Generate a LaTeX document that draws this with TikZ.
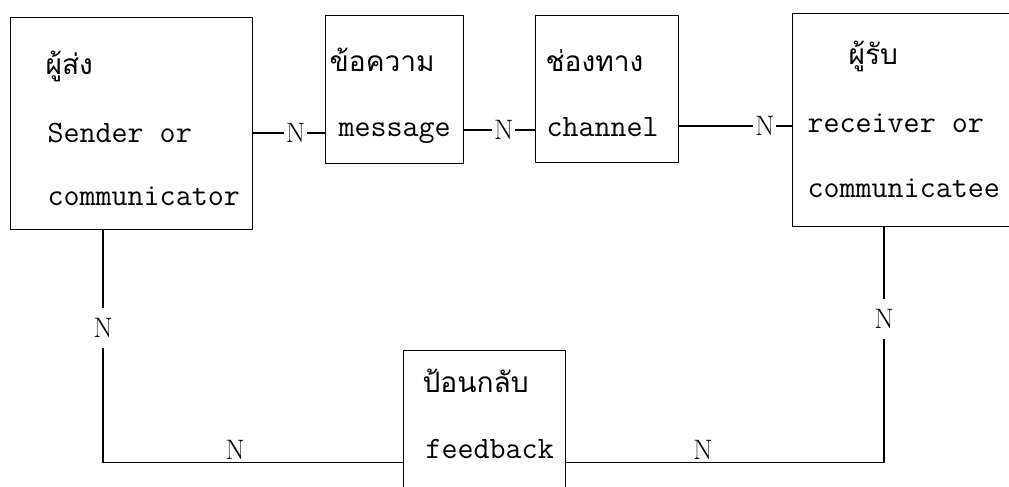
\documentclass[tikz,border=0pt]{standalone}
\usepackage{fontspec}
\newfontfamily\thaifont[Script=Thai]{Loma}
\begin{document}
\begin{tikzpicture}[line join=round,line cap=round,line width=0.7pt,
		box/.style={draw,inner sep=0pt,anchor=north west},
		th/.style={anchor=base west,inner sep=0pt,font=\thaifont\fontsize{16}{20}\selectfont},
		tt/.style={anchor=base west,inner sep=0pt,font=\ttfamily\fontsize{17.7}{20}\selectfont},
		tie/.style={fill=white,inner xsep=1pt,inner ysep=1pt,font=\fontsize{16}{18}\selectfont},
		vgap/.style={tie,inner ysep=6pt},
		hgap/.style={tie,inner xsep=9.5pt,yshift=7pt}]
			\useasboundingbox (0,0) rectangle (20.18,9.72);
			\clip (0,0) rectangle (20.18,9.72);
			% boxes
			\node[box,minimum width=4.84cm,minimum height=4.24cm] (sender) at (0.2,9.38) {};
			\node[box,minimum width=2.76cm,minimum height=2.96cm] (message) at (6.5,9.42) {};
			\node[box,minimum width=2.86cm,minimum height=2.94cm] (channel) at (10.7,9.42) {};
			\node[box,minimum width=4.7cm,minimum height=4.26cm] (receiver) at (15.84,9.46) {};
			\node[box,minimum width=3.24cm,minimum height=4.48cm] (feedback) at (8.06,2.72) {};
			% texts
			\foreach \n/\x/\y/\t in {sender-th/0.9/8.22/ผู้ส่ง,message-th/6.58/8.28/ข้อความ,channel-th/10.9/8.28/ช่องทาง,receiver-th/16.96/8.42/ผู้รับ,feedback-th/8.44/1.88/ป้อนกลับ}
			\node[th] (\n) at (\x,\y) {\t};
			\foreach \n/\x/\y/\t in {sender-a/0.94/6.88/Sender or,sender-b/0.94/5.62/communicator,message-a/6.76/6.98/message,channel-a/10.92/6.98/channel,receiver-a/16.14/7.08/receiver or,receiver-b/16.14/5.78/communicatee,feedback-a/8.5/0.56/feedback}
			\node[tt] (\n) at (\x,\y) {\t};
			% links
			\coordinate (l1) at (0,7.06);
			\coordinate (l2) at (0,7.12);
			\coordinate (l3) at (0,7.2);
			\draw (sender.east |- l1) -- node[tie,pos=0.59]{N} (message.west |- l1);
			\draw (message.east |- l2) -- node[tie,pos=0.56]{N} (channel.west |- l2);
			\draw (channel.east |- l3) -- node[tie,pos=0.76]{N} (receiver.west |- l3);
			\draw ([xshift=1.86cm]sender.south west) |- node[vgap,pos=0.21]{N} node[hgap,pos=0.72]{N} (feedback.west);
			\draw (feedback.east) -| node[hgap,pos=0.215]{N} node[vgap,pos=0.805]{N} ([xshift=1.84cm]receiver.south west);
		\end{tikzpicture}
\end{document}
